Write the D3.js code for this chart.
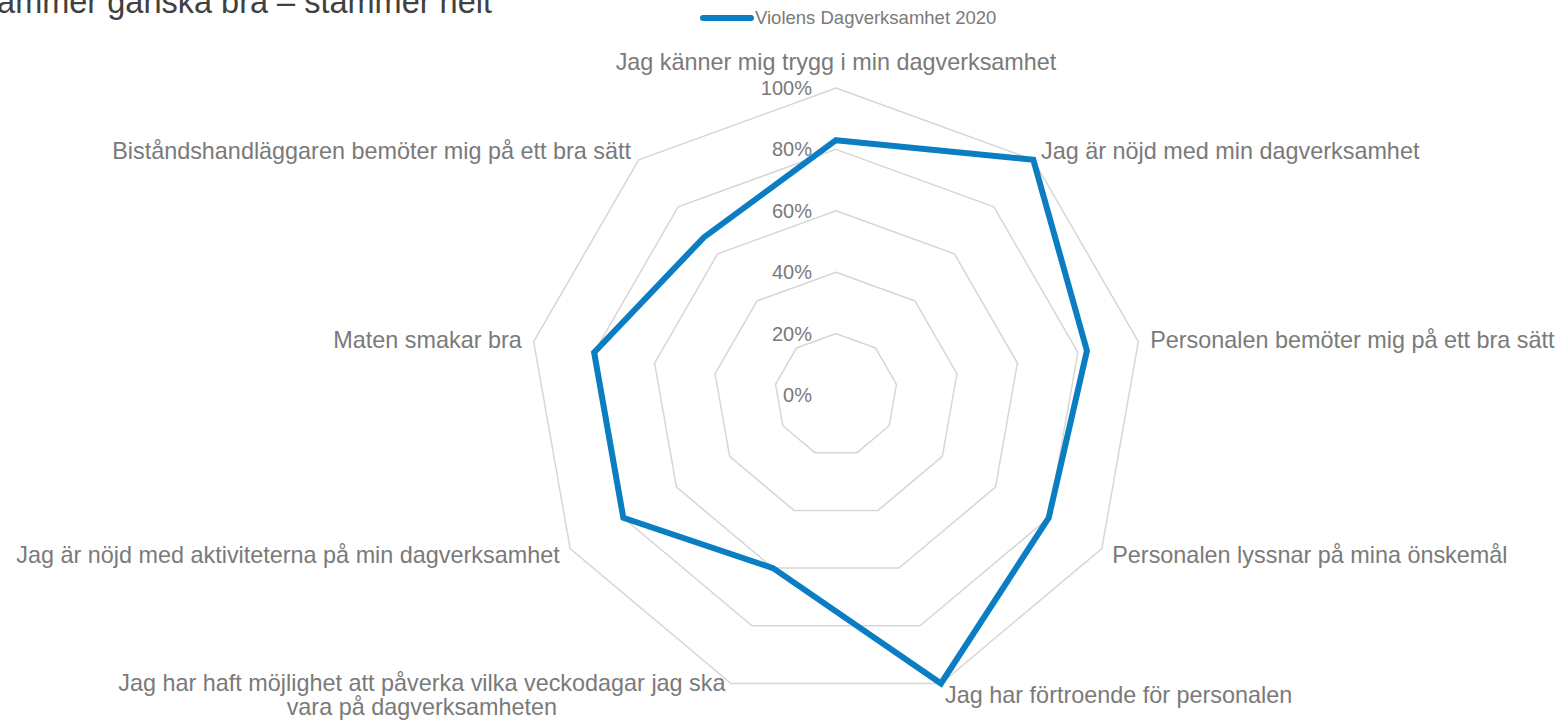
<!DOCTYPE html>
<html>
<head>
<meta charset="utf-8">
<script src="https://cdn.jsdelivr.net/npm/d3@7"></script>
<style>
  body { margin: 0; background: #fff; }
  svg { display: block; font-family: "Liberation Sans", Arial, sans-serif; }
</style>
</head>
<body>
<svg id="chart" width="1560" height="722"></svg>
<script>
// categories, clockwise from the top
var categories = [
  "Jag känner mig trygg i min dagverksamhet",
  "Jag är nöjd med min dagverksamhet",
  "Personalen bemöter mig på ett bra sätt",
  "Personalen lyssnar på mina önskemål",
  "Jag har förtroende för personalen",
  "Jag har haft möjlighet att påverka vilka veckodagar jag ska|vara på dagverksamheten",
  "Jag är nöjd med aktiviteterna på min dagverksamhet",
  "Maten smakar bra",
  "Biståndshandläggaren bemöter mig på ett bra sätt"
];
var seriesName = "Violens Dagverksamhet 2020";
var values = [0.83, 1.00, 0.83, 0.80, 1.00, 0.60, 0.80, 0.80, 0.67];
var ticks = [0, 0.2, 0.4, 0.6, 0.8, 1.0];
var titleText = "Andel som svarat stämmer ganska bra – stämmer helt";

var svg = d3.select("#chart");
var cx = 836, cy = 395, R = 307;
var blue = "#0b7dc2", gray = "#7a7a7a";

var r = d3.scaleLinear().domain([0, 1]).range([0, R]);
var angle = d3.scaleLinear().domain([0, categories.length]).range([0, 2 * Math.PI]);

var g = svg.append("g").attr("transform", "translate(" + cx + "," + cy + ")");

// title, cut off at top left like the source
svg.append("text")
  .attr("x", 492).attr("y", 13)
  .attr("text-anchor", "end")
  .style("font-size", "32.5px")
  .style("fill", "#404040")
  .text(titleText);

// grid rings (no ring at 0)
var ring = d3.lineRadial()
  .angle(function(d, i) { return angle(i); })
  .radius(function(d) { return r(d); })
  .curve(d3.curveLinearClosed);

g.selectAll(".ring")
  .data(ticks.filter(function(t) { return t > 0; }))
  .enter().append("path")
  .attr("class", "ring")
  .attr("d", function(t) { return ring(categories.map(function() { return t; })); })
  .style("fill", "none")
  .style("stroke", "#d6d6d6")
  .style("stroke-width", 1.5);

// tick labels
g.selectAll(".tick")
  .data(ticks)
  .enter().append("text")
  .attr("class", "tick")
  .attr("x", -24)
  .attr("y", function(t) { return -r(t); })
  .attr("dy", "0.35em")
  .attr("text-anchor", "end")
  .style("font-size", "20px")
  .style("fill", gray)
  .text(d3.format(".0%"));

// category labels
var labels = g.selectAll(".cat")
  .data(categories)
  .enter().append("text")
  .attr("class", "cat")
  .style("font-size", "23.4px")
  .style("fill", gray)
  .attr("text-anchor", function(d, i) {
    var s = Math.sin(angle(i));
    return Math.abs(s) < 0.01 ? "middle" : (s > 0 ? "start" : "end");
  })
  .attr("transform", function(d, i) {
    var a = angle(i), d0 = R + 12;
    var x = d0 * Math.sin(a), y = -d0 * Math.cos(a);
    if (i === 0) y -= 14;
    return "translate(" + x + "," + y + ")";
  });

labels.each(function(d) {
  var lines = d.split("|");
  var t = d3.select(this);
  var anchorMid = lines.length > 1;
  lines.forEach(function(line, j) {
    t.append("tspan")
      .attr("x", anchorMid ? -305 : 0)
      .attr("text-anchor", anchorMid ? "middle" : null)
      .attr("dy", j === 0 ? (0.35 - (lines.length - 1) * 0.5) + "em" : "1.03em")
      .text(line);
  });
});

// series line
var line = d3.lineRadial()
  .angle(function(d, i) { return angle(i); })
  .radius(function(d) { return r(d); })
  .curve(d3.curveLinearClosed);

g.append("path")
  .datum(values)
  .attr("d", line)
  .style("fill", "none")
  .style("stroke", blue)
  .style("stroke-width", 6)
  .style("stroke-linejoin", "miter");

// legend
var lg = svg.append("g").attr("transform", "translate(700,18)");
lg.append("line")
  .attr("x1", 3).attr("x2", 51)
  .style("stroke", blue)
  .style("stroke-width", 6)
  .style("stroke-linecap", "round");
lg.append("text")
  .attr("x", 55).attr("dy", "0.35em")
  .style("font-size", "18.5px")
  .style("fill", gray)
  .text(seriesName);
</script>
</body>
</html>
